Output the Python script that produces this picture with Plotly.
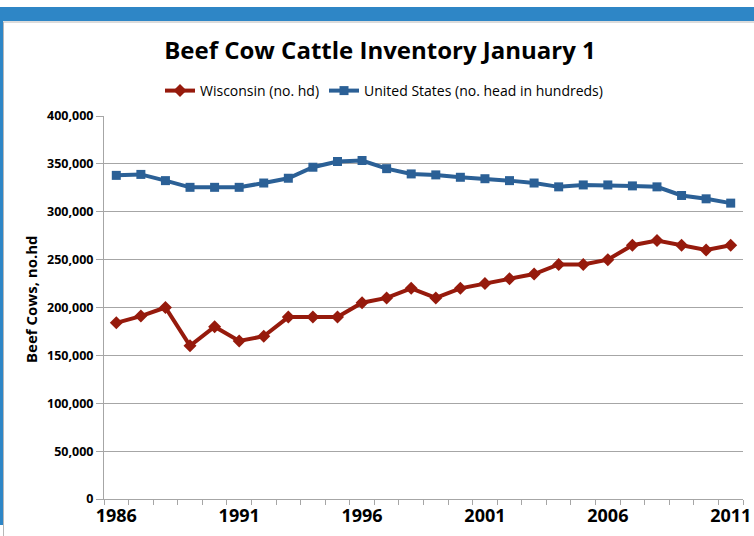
import plotly.graph_objects as go

years = list(range(1986, 2012))
wisconsin = [184000, 191000, 200000, 160000, 180000, 165000, 170000, 190000, 190000, 190000,
             205000, 210000, 220000, 210000, 220000, 225000, 230000, 235000, 245000, 245000,
             250000, 265000, 270000, 265000, 260000, 265000]
united_states = [338000, 339000, 332500, 325500, 325500, 325500, 330000, 335000, 346500, 352500,
                 353500, 345000, 339500, 338500, 336000, 334500, 332500, 330000, 326000, 328000,
                 328000, 327000, 326000, 317000, 313500, 309000]
x_labels = [1986, 1991, 1996, 2001, 2006, 2011]
y_ticks = [0, 50000, 100000, 150000, 200000, 250000, 300000, 350000, 400000]

RED = "#961a0c"
BLUE = "#2b6096"
FONT = "Open Sans"

fig = go.Figure()
fig.add_trace(go.Scatter(
    x=years, y=wisconsin, name="Wisconsin (no. hd)", mode="lines+markers",
    line=dict(color=RED, width=4), marker=dict(symbol="diamond", size=10, color=RED)))
fig.add_trace(go.Scatter(
    x=years, y=united_states, name="United States (no. head in hundreds)", mode="lines+markers",
    line=dict(color=BLUE, width=4), marker=dict(symbol="square", size=9, color=BLUE)))

L, R, T, B = 104, 11, 116, 37
W, H = 754, 536
pw, ph = W - L - R, H - T - B

def px(x):
    return (x - L) / pw

def py(y):
    return (H - B - y) / ph

shapes = [
    dict(type="rect", xref="paper", yref="paper", x0=px(0), x1=px(W), y0=py(21), y1=py(7),
         fillcolor="#2e86c6", line=dict(width=0), layer="below"),
    dict(type="line", xref="paper", yref="paper", x0=px(3), x1=px(W), y0=py(22), y1=py(22),
         line=dict(color="#b8b8b8", width=1)),
    dict(type="rect", xref="paper", yref="paper", x0=px(0), x1=px(3), y0=py(525), y1=py(7),
         fillcolor="#2e86c6", line=dict(width=0), layer="below"),
    dict(type="line", xref="paper", yref="paper", x0=px(3.5), x1=px(3.5), y0=py(H), y1=py(22),
         line=dict(color="#b8b8b8", width=1)),
]

fig.update_layout(
    width=W, height=H,
    margin=dict(l=L, r=R, t=T, b=B, autoexpand=False),
    paper_bgcolor="white", plot_bgcolor="white",
    font=dict(family=FONT, color="black"),
    title=dict(text="Beef Cow Cattle Inventory January 1", x=380 / W, xref="container", xanchor="center",
               y=1 - 51 / H, yref="container", yanchor="middle",
               font=dict(family=FONT, size=24, weight="bold", color="black")),
    legend=dict(orientation="h", xref="container", x=384 / W, xanchor="center",
                yref="container", y=1 - 91 / H, yanchor="middle",
                font=dict(family=FONT, size=14, color="black"), itemwidth=30,
                bgcolor="rgba(0,0,0,0)"),
    showlegend=True,
    shapes=shapes,
    annotations=[dict(text="Beef Cows, no.hd", xref="paper", yref="paper", x=px(31), y=py(299),
                      textangle=-90, showarrow=False, xanchor="center", yanchor="middle",
                      font=dict(family=FONT, size=15, weight="bold", color="black"))],
)

fig.update_xaxes(
    range=[1985.5, 2011.5], tickmode="array", tickvals=x_labels, ticktext=[str(v) for v in x_labels],
    ticks="", showgrid=False, zeroline=False, automargin=False,
    showline=True, linecolor="#a6a6a6", linewidth=1,
    tickfont=dict(family=FONT, size=18, weight="bold", color="black"),
    minor=dict(tickmode="array", tickvals=[y - 0.5 for y in years] + [2011.5], ticks="outside",
               ticklen=5, tickcolor="#a6a6a6", showgrid=False),
)
fig.update_yaxes(
    range=[0, 400000], tickmode="array", tickvals=y_ticks, tickformat=",d",
    ticks="outside", ticklen=7, tickcolor="#a6a6a6", automargin=False,
    showgrid=True, gridcolor="#a6a6a6", gridwidth=1, zeroline=False,
    showline=True, linecolor="#a6a6a6", linewidth=1,
    tickfont=dict(family=FONT, size=12.5, weight="bold", color="black"),
)

fig.write_html("out.html", config={"displayModeBar": False},
               post_script="document.body.style.margin='0';document.body.style.overflow='hidden';")
